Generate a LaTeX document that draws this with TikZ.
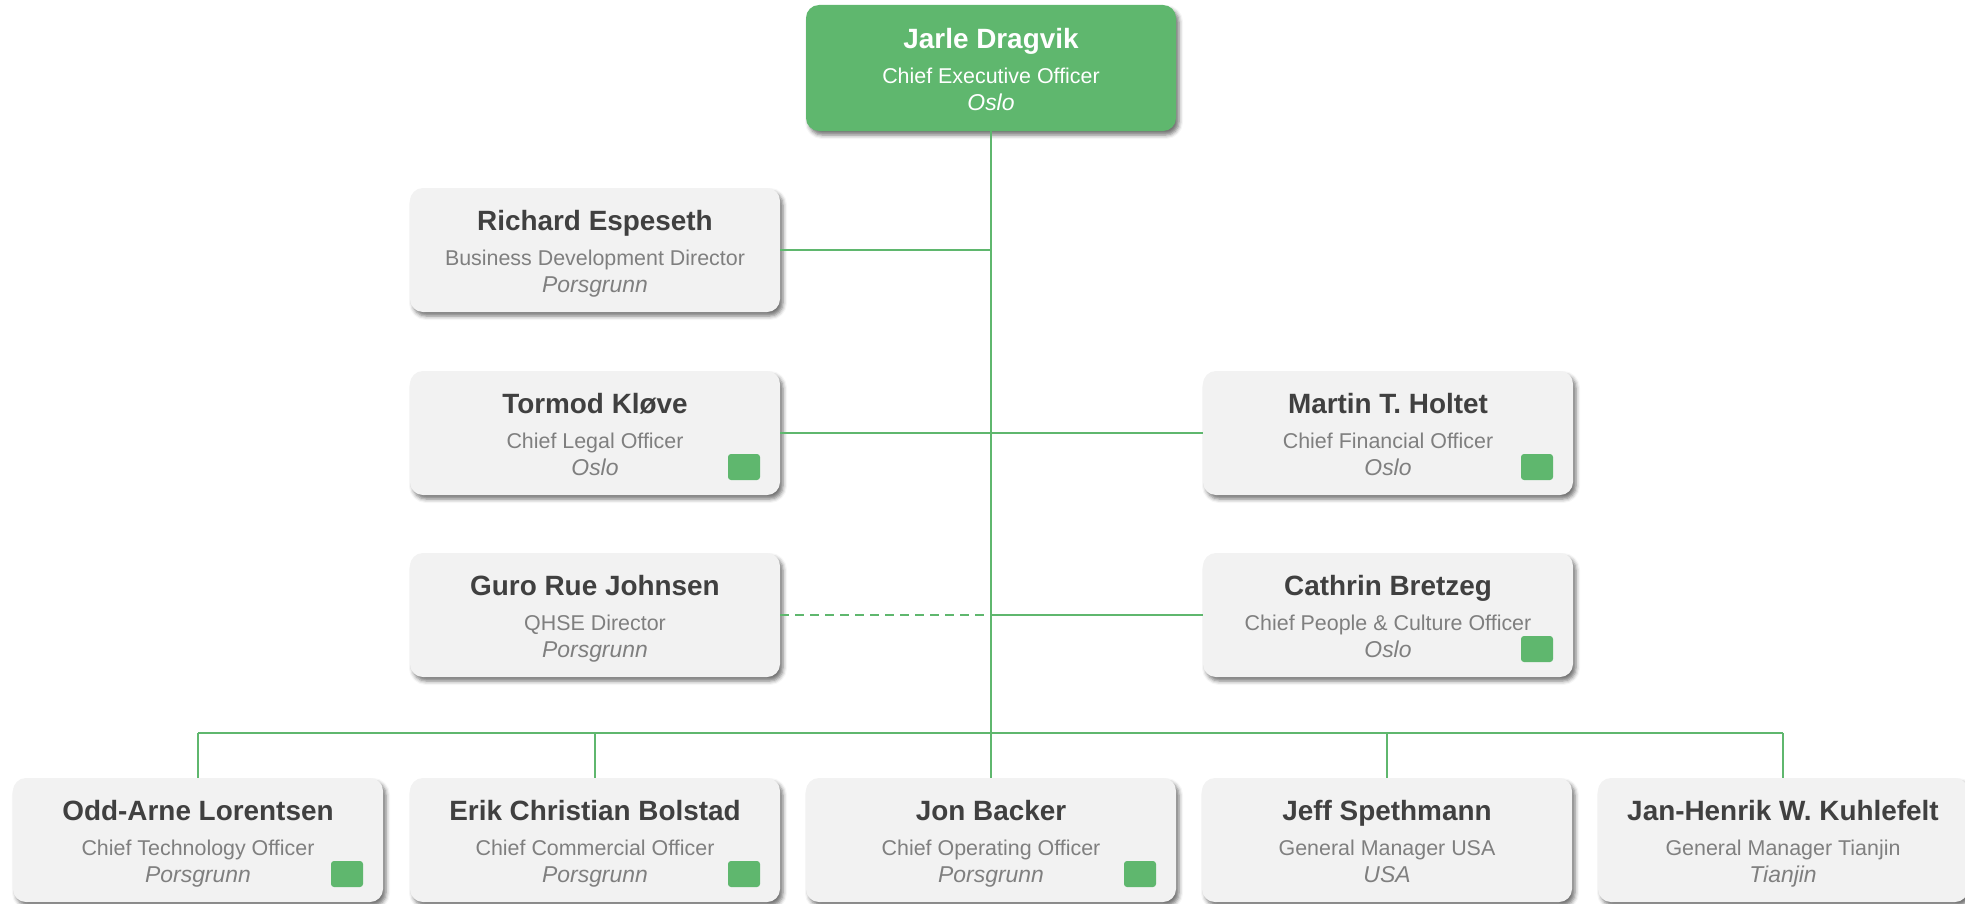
\documentclass[tikz,border=0pt]{standalone}
\usepackage{fontspec}
\setmainfont{Liberation Sans}
\usetikzlibrary{shadows.blur,calc}
\definecolor{ogreen}{RGB}{95,183,110}
\definecolor{boxgray}{RGB}{242,242,242}
\definecolor{namegray}{RGB}{64,64,64}
\definecolor{subgray}{RGB}{127,127,127}
\tikzset{
 orgcard/.style={draw=none, fill=boxgray, rounded corners=13bp, minimum width=370bp, minimum height=124bp, inner sep=0pt,
   blur shadow={shadow xshift=3bp, shadow yshift=-4bp, shadow blur radius=4bp, shadow opacity=55}},
 ceocard/.style={orgcard, fill=ogreen, minimum height=126bp},
 nametext/.style={anchor=base, inner sep=0pt, font=\fontsize{28}{30}\selectfont\bfseries, text=namegray},
 titletext/.style={anchor=base, inner sep=0pt, font=\fontsize{21.5}{24}\selectfont, text=subgray},
 loctext/.style={anchor=base, inner sep=0pt, font=\fontsize{23}{25}\selectfont\itshape, text=subgray},
 flag/.style={fill=ogreen, rounded corners=3bp, minimum width=32bp, minimum height=26bp, inner sep=0pt},
 link/.style={draw=ogreen, line width=1.5bp},
 whitetext/.style={text=white},
 plaintext/.style={},
}
% #1 id, #2 x, #3 y, #4 card style, #5 name, #6 title, #7 location, #8 text style
\newcommand\orgbox[8]{%
 \node[#4] (#1) at (#2,#3) {};
 \node[nametext,#8] (#1-n) at ($(#1.center)+(0,-20)$) {#5};
 \node[titletext,#8] (#1-t) at ($(#1.center)+(0,15)$) {#6};
 \node[loctext,#8] (#1-l) at ($(#1.center)+(0,42)$) {#7};
}
\newcommand\orgflag[1]{\node[flag] (#1-f) at ($(#1.center)+(149,34)$) {};}
\begin{document}
\begin{tikzpicture}[x=1bp,y=-1bp]
\useasboundingbox (0,0) rectangle (1965,904);
\coordinate (bus) at (991,733);
\orgbox{ceo}{991}{68}{ceocard}{Jarle Dragvik}{Chief Executive Officer}{Oslo}{whitetext}
\orgbox{ric}{595}{250}{orgcard}{Richard Espeseth}{Business Development Director}{Porsgrunn}{plaintext}
\orgbox{tor}{595}{433}{orgcard}{Tormod Kløve}{Chief Legal Officer}{Oslo}{plaintext}
\orgbox{mar}{1388}{433}{orgcard}{Martin T. Holtet}{Chief Financial Officer}{Oslo}{plaintext}
\orgbox{gur}{595}{615}{orgcard}{Guro Rue Johnsen}{QHSE Director}{Porsgrunn}{plaintext}
\orgbox{cat}{1388}{615}{orgcard}{Cathrin Bretzeg}{Chief People \& Culture Officer}{Oslo}{plaintext}
\orgbox{odd}{198}{840}{orgcard}{Odd-Arne Lorentsen}{Chief Technology Officer}{Porsgrunn}{plaintext}
\orgbox{eri}{595}{840}{orgcard}{Erik Christian Bolstad}{Chief Commercial Officer}{Porsgrunn}{plaintext}
\orgbox{jon}{991}{840}{orgcard}{Jon Backer}{Chief Operating Officer}{Porsgrunn}{plaintext}
\orgbox{jef}{1387}{840}{orgcard}{Jeff Spethmann}{General Manager USA}{USA}{plaintext}
\orgbox{jan}{1783}{840}{orgcard}{Jan-Henrik W. Kuhlefelt}{General Manager Tianjin}{Tianjin}{plaintext}
\orgflag{tor}\orgflag{mar}\orgflag{cat}\orgflag{odd}\orgflag{eri}\orgflag{jon}
% connectors
\draw[link] (ceo.south) -- (jon.north);
\draw[link] (ric.east) -- (ric.east -| ceo.south);
\draw[link] (tor.east) -- (mar.west);
\draw[link, dash pattern=on 9bp off 6bp] (gur.east) -- (gur.east -| ceo.south);
\draw[link] (cat.west) -- (cat.west -| ceo.south);
\draw[link] (odd.north |- bus) -- (jan.north |- bus);
\draw[link] (odd.north |- bus) -- (odd.north);
\draw[link] (eri.north |- bus) -- (eri.north);
\draw[link] (jef.north |- bus) -- (jef.north);
\draw[link] (jan.north |- bus) -- (jan.north);
\end{tikzpicture}
\end{document}
